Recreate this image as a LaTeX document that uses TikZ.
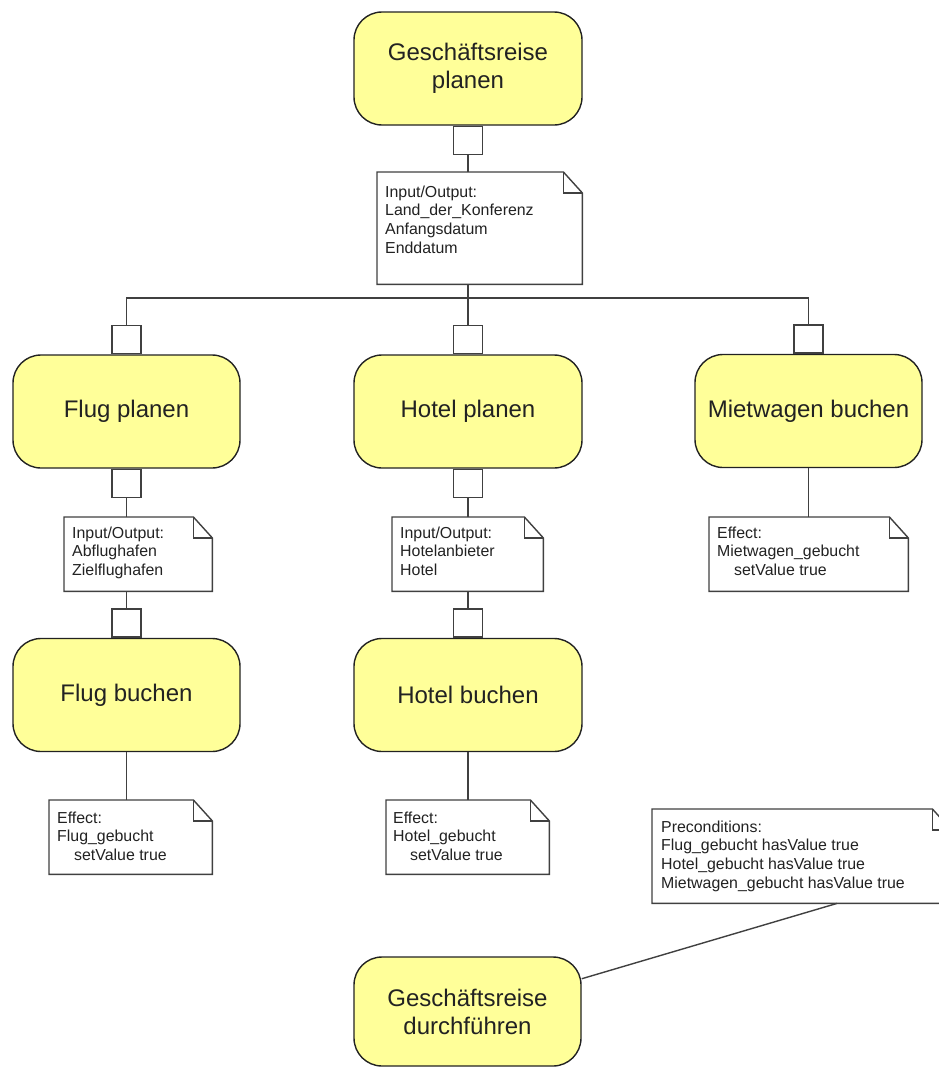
\documentclass[tikz,border=0pt]{standalone}
\usepackage{fontspec}
\setmainfont{Liberation Sans}
\definecolor{taskfill}{RGB}{255,255,153}
\definecolor{edge}{RGB}{64,64,64}
\definecolor{ink}{RGB}{34,34,34}
\newcommand\taskfont{\fontsize{24}{28}\selectfont}
\newcommand\notefont{\fontsize{15.9}{18.7}\selectfont}
% outline of a note with a folded top-right corner
\newcommand\drawnote[1]{%
  \draw[noteline] (#1.north west) -- ([xshift=-19pt]#1.north east)
    -- ([yshift=-21pt]#1.north east) -- (#1.south east) -- (#1.south west) -- cycle;
  \draw[noteline] ([xshift=-19pt]#1.north east) |- ([yshift=-21pt]#1.north east);}
\begin{document}
\begin{tikzpicture}[x=1pt,y=-1pt,
  task/.style={draw=ink, fill=taskfill, line width=1.4pt, rounded corners=28pt,
    minimum width=227pt, minimum height=113pt, inner sep=0pt, align=center,
    font=\taskfont, text=ink},
  port/.style={draw=edge, fill=white, line width=1.4pt, minimum width=29pt,
    minimum height=28pt, inner sep=0pt},
  notebox/.style 2 args={fill=white, minimum width=#1pt, minimum height=#2pt,
    inner sep=0pt, anchor=north west},
  noteline/.style={draw=edge, line width=1.4pt, line join=miter},
  notetext/.style={anchor=north west, inner sep=0pt, align=left, font=\notefont, text=ink},
  link/.style={draw=edge, line width=1.4pt},
]
\useasboundingbox (0,0) rectangle (939,1068);
\clip (0,0) rectangle (939,1068);

% tasks
\node[task, minimum width=228pt] (gp) at (468,68.5) {Geschäftsreise\\planen};
\node[task] (fp) at (126.5,411.5) {Flug planen};
\node[task, minimum width=228pt] (hp) at (468,411.5) {Hotel planen};
\node[task] (mb) at (808.5,411) {Mietwagen buchen};
\node[task] (fb) at (126.5,695) {Flug buchen};
\node[task, minimum width=228pt] (hb) at (468,695) {Hotel buchen};
\node[task, minimum height=109pt] (gd) at (467.5,1011.5) {Geschäftsreise\\durchführen};

% ports
\node[port, anchor=north] (gpo) at (gp.south) {};
\node[port, anchor=south] (fpi) at (fp.north) {};
\node[port, anchor=north] (fpo) at (fp.south) {};
\node[port, anchor=south] (fbi) at (fb.north) {};
\node[port, anchor=south] (hpi) at (hp.north) {};
\node[port, anchor=north] (hpo) at (hp.south) {};
\node[port, anchor=south] (hbi) at (hb.north) {};
\node[port, anchor=south] (mbi) at (mb.north) {};

% notes
\node[notebox={205}{112}] (io0) at (377,172) {};
\node[notebox={148}{74}] (io1) at (64,517) {};
\node[notebox={151}{74}] (io2) at (392,517) {};
\node[notebox={199}{74}] (ef3) at (709,517) {};
\node[notebox={163}{74}] (ef1) at (49,800) {};
\node[notebox={163}{74}] (ef2) at (386,800) {};
\node[notebox={299}{94}] (pre) at (652,809) {};
\drawnote{io0}\drawnote{io1}\drawnote{io2}\drawnote{ef3}
\drawnote{ef1}\drawnote{ef2}\drawnote{pre}

\node[notetext] (io0t) at ([xshift=8pt,yshift=-11.9pt]io0.north west)
  {\strut Input/Output:\\\strut Land\_der\_Konferenz\\\strut Anfangsdatum\\\strut Enddatum};
\node[notetext] (io1t) at ([xshift=8pt,yshift=-7.9pt]io1.north west)
  {\strut Input/Output:\\\strut Abflughafen\\\strut Zielflughafen};
\node[notetext] (io2t) at ([xshift=8pt,yshift=-7.9pt]io2.north west)
  {\strut Input/Output:\\\strut Hotelanbieter\\\strut Hotel};
\node[notetext] (ef3t) at ([xshift=8pt,yshift=-7.9pt]ef3.north west)
  {\strut Effect:\\\strut Mietwagen\_gebucht\\\strut\hspace*{17pt}setValue true};
\node[notetext] (ef1t) at ([xshift=8pt,yshift=-9.9pt]ef1.north west)
  {\strut Effect:\\\strut Flug\_gebucht\\\strut\hspace*{17pt}setValue true};
\node[notetext] (ef2t) at ([xshift=7pt,yshift=-9.9pt]ef2.north west)
  {\strut Effect:\\\strut Hotel\_gebucht\\\strut\hspace*{17pt}setValue true};
\node[notetext] (pret) at ([xshift=9pt,yshift=-9.9pt]pre.north west)
  {\strut Preconditions:\\\strut Flug\_gebucht hasValue true\\\strut Hotel\_gebucht hasValue true\\\strut Mietwagen\_gebucht hasValue true};

% connectors
\coordinate (bus) at (468,298);
\draw[link] (gpo.south) -- (gpo.south |- io0.north);
\draw[link] (gpo.south |- io0.south) -- (bus);
\draw[link] (fpi.north) |- (bus) -| (mbi.north);
\draw[link] (hpi.north) -- (bus);

\draw[link] (fpo.south) -- (fpo.south |- io1.north);
\draw[link] (fbi.north |- io1.south) -- (fbi.north);
\draw[link] (fb.south) -- (fb.south |- ef1.north);

\draw[link] (hpo.south) -- (hpo.south |- io2.north);
\draw[link] (hbi.north |- io2.south) -- (hbi.north);
\draw[link] (hb.south) -- (hb.south |- ef2.north);

\draw[link] (mb.south) -- (mb.south |- ef3.north);

\draw[link] ([xshift=185pt]pre.south west) -- (gd.16);
\end{tikzpicture}
\end{document}
